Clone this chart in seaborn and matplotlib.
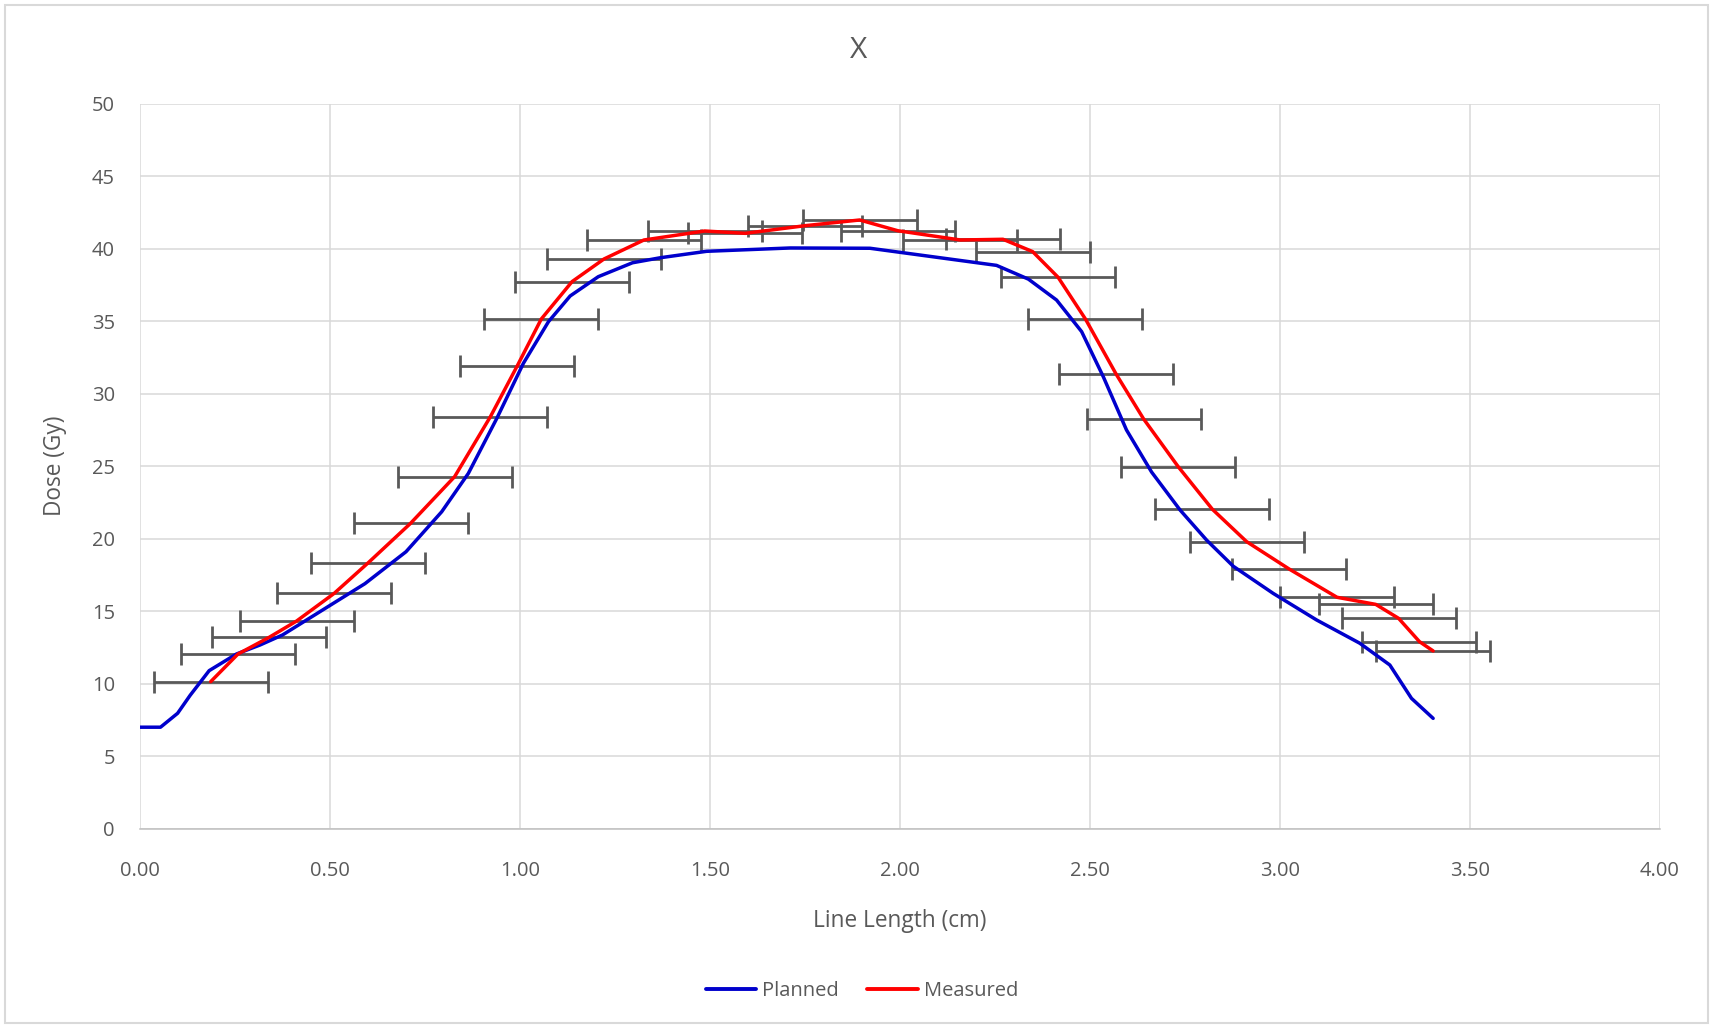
import numpy as np
import pandas as pd
import matplotlib
matplotlib.use("Agg")
import matplotlib.pyplot as plt
from matplotlib.patches import Rectangle
from matplotlib.ticker import FormatStrFormatter, MultipleLocator
import seaborn as sns

# ---- data ----
planned_x = [0.00, 0.054, 0.099, 0.132, 0.182, 0.254, 0.316, 0.375, 0.592, 0.700,
             0.794, 0.864, 0.939, 1.009, 1.075, 1.132, 1.206, 1.296, 1.370, 1.491,
             1.711, 1.921, 2.254, 2.338, 2.412, 2.478, 2.535, 2.596, 2.662, 2.737,
             2.807, 2.877, 2.982, 3.096, 3.210, 3.289, 3.346, 3.403]
planned_y = [7.0, 7.0, 7.96, 9.2, 10.9, 12.05, 12.67, 13.36, 16.9, 19.1,
             21.86, 24.5, 28.3, 32.1, 34.97, 36.74, 38.07, 39.03, 39.38, 39.82,
             40.05, 40.03, 38.85, 37.9, 36.46, 34.28, 31.17, 27.5, 24.6, 21.98,
             19.9, 18.1, 16.23, 14.4, 12.79, 11.29, 8.99, 7.61]

measured_x = [0.186, 0.258, 0.340, 0.412, 0.511, 0.601, 0.712, 0.828, 0.922, 0.993,
              1.056, 1.137, 1.221, 1.326, 1.486, 1.593, 1.751, 1.894, 1.994, 2.159,
              2.271, 2.349, 2.416, 2.488, 2.569, 2.641, 2.732, 2.822, 2.912, 3.024,
              3.150, 3.252, 3.312, 3.367, 3.403]
measured_y = [10.14, 12.05, 13.2, 14.32, 16.23, 18.35, 21.06, 24.28, 28.41, 31.93,
              35.15, 37.73, 39.29, 40.6, 41.22, 41.06, 41.59, 41.98, 41.24, 40.6,
              40.65, 39.8, 38.03, 35.15, 31.34, 28.26, 24.97, 22.03, 19.8, 17.91,
              15.96, 15.47, 14.51, 12.9, 12.26]
measured_xerr = 0.15

series_names = ["Planned", "Measured"]
series_colors = ["#0000CC", "#FF0000"]
title = "X"
x_label = "Line Length (cm)"
y_label = "Dose (Gy)"

df = pd.concat([
    pd.DataFrame({"x": planned_x, "y": planned_y, "series": series_names[0]}),
    pd.DataFrame({"x": measured_x, "y": measured_y, "series": series_names[1]}),
], ignore_index=True)

# ---- style ----
sns.set_theme(style="whitegrid")
plt.rcParams["font.family"] = ["Open Sans", "DejaVu Sans"]
text_color = "#595959"
grid_color = "#D9D9D9"

fig = plt.figure(figsize=(17.11, 10.26), dpi=100)
fig.patch.set_facecolor("white")
ax = fig.add_axes([140 / 1711, 1 - 828.7 / 1026, 1520 / 1711, 725 / 1026])

# error bars (behind the lines)
ax.errorbar(measured_x, measured_y, xerr=measured_xerr, fmt="none",
            ecolor="#595959", elinewidth=2.0, capsize=8, capthick=2.0, zorder=2)

sns.lineplot(data=df, x="x", y="y", hue="series", palette=series_colors,
             hue_order=series_names, estimator=None, sort=False,
             linewidth=2.5, ax=ax, zorder=3, legend=False)

ax.set_xlim(0, 4)
ax.set_ylim(0, 50)
ax.xaxis.set_major_locator(MultipleLocator(0.5))
ax.yaxis.set_major_locator(MultipleLocator(5))
ax.xaxis.set_major_formatter(FormatStrFormatter("%.2f"))
ax.yaxis.set_major_formatter(FormatStrFormatter("%d"))

ax.grid(True, color=grid_color, linewidth=1.1)
ax.set_axisbelow(True)
for side in ["top", "right", "left"]:
    ax.spines[side].set_visible(False)
ax.spines["bottom"].set_color("#BFBFBF")
ax.spines["bottom"].set_linewidth(1.1)

ax.tick_params(axis="both", length=0, labelsize=14.5, colors=text_color)
ax.tick_params(axis="x", pad=23)
ax.tick_params(axis="y", pad=18)

ax.set_xlabel(x_label, fontsize=16.3, color=text_color)
ax.xaxis.set_label_coords(0.5, -0.111)
ax.set_ylabel(y_label, fontsize=16.3, color=text_color, va="center")
ax.yaxis.set_label_coords(-0.056, 0.5)

fig.text(859 / 1711, 1 - 51 / 1026, title, ha="center", va="center",
         fontsize=21.5, color=text_color)

handles = [plt.Line2D([], [], color=c, linewidth=2.8) for c in series_colors]
fig.legend(handles, series_names, loc="center", bbox_to_anchor=(862 / 1711, 1 - 991 / 1026),
           ncol=2, frameon=False, fontsize=14.5, handlelength=2.5, handletextpad=0.3,
           columnspacing=1.4, labelcolor=text_color)

fig.patches.append(Rectangle((5 / 1711, 3 / 1026), 1703 / 1711, 1018 / 1026,
                             transform=fig.transFigure, fill=False,
                             edgecolor=grid_color, linewidth=1.5))

fig.savefig("out.png", dpi=100, facecolor="white")
